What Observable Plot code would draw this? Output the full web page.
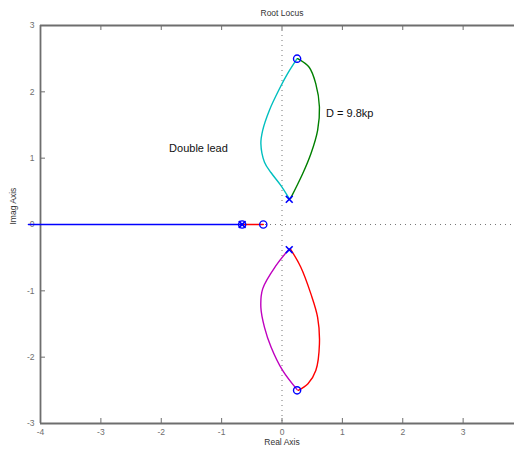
<!DOCTYPE html>
<html>
<head>
<meta charset="utf-8">
<script src="https://cdn.jsdelivr.net/npm/d3@7"></script>
<script src="https://cdn.jsdelivr.net/npm/@observablehq/plot@0.6"></script>
<style>
  body { margin: 0; background: #fff; }
  #wrap { width: 514px; height: 453px; overflow: hidden; }
  #wrap svg { max-width: none !important; overflow: hidden; }
</style>
</head>
<body>
<div id="wrap"></div>
<script>
// Root locus of the double-lead compensated loop (D = 9.8kp)
const xTicks = [-4, -3, -2, -1, 0, 1, 2, 3];
const yTicks = [-3, -2, -1, 0, 1, 2, 3];

// open-loop poles and zeros
const poles = [[0.12, 0.38], [0.12, -0.38], [-0.66, 0]];
const zeros = [[0.25, 2.5], [0.25, -2.5], [-0.66, 0], [-0.31, 0]];

// real-axis branches
const realLeft = [[-4.2, 0], [-0.66, 0]];
const realMid = [[-0.66, 0], [-0.31, 0]];

// complex branches
const branchCyan = [[0.12, 0.39], [-0.02, 0.59], [-0.18, 0.78], [-0.29, 0.94], [-0.35, 1.22], [-0.32, 1.42],
  [-0.21, 1.72], [-0.04, 2.05], [0.09, 2.27], [0.25, 2.5]];
const branchGreen = [[0.14, 0.39], [0.34, 0.76], [0.48, 1.07], [0.59, 1.42], [0.62, 1.77], [0.56, 2.12],
  [0.45, 2.37], [0.26, 2.5]];
const branchMagenta = [[0.12, -0.37], [-0.10, -0.62], [-0.32, -0.97], [-0.35, -1.25], [-0.29, -1.55],
  [-0.18, -1.85], [0.01, -2.2], [0.25, -2.49]];
const branchRed = [[0.14, -0.37], [0.31, -0.64], [0.48, -1.05], [0.59, -1.4], [0.62, -1.8], [0.56, -2.2],
  [0.43, -2.4], [0.27, -2.5]];

const notes = [
  {text: "Double lead", x: -1.87, y: 1.15},
  {text: "D = 9.8kp", x: 0.73, y: 1.67}
];

const W = 523, H = 453, mt = 25, mb = 30, ml = 40, mr = 0;
const fw = W - ml - mr, fh = H - mt - mb;
const frameColor = "#6e6e6e";
const lw = 1.4;

const line = (pts, color) => Plot.line(pts, {x: d => d[0], y: d => d[1], stroke: color, strokeWidth: lw, curve: "catmull-rom"});

const chart = Plot.plot({
  width: W, height: H,
  marginTop: mt, marginBottom: mb, marginLeft: ml, marginRight: mr,
  style: {fontFamily: "'Liberation Sans', Arial, sans-serif", background: "#fff", maxWidth: "none"},
  x: {domain: [-4, 4], axis: null},
  y: {domain: [-3, 3], axis: null},
  marks: [
    // dotted zero lines
    Plot.ruleX([0], {stroke: "#777", strokeDasharray: "1,4", strokeWidth: 1}),
    Plot.ruleY([0], {stroke: "#777", strokeDasharray: "1,4", strokeWidth: 1}),
    // inward ticks
    Plot.ruleX(xTicks.slice(1), {x: d => d, insetTop: fh - 5, stroke: frameColor}),
    Plot.ruleX(xTicks.slice(1), {x: d => d, insetBottom: fh - 5, stroke: frameColor}),
    Plot.ruleY(yTicks.slice(1, -1), {y: d => d, insetRight: fw - 5, stroke: frameColor}),
    // frame
    Plot.ruleX([-4], {stroke: frameColor, strokeWidth: 1.8}),
    Plot.ruleY([-3, 3], {stroke: frameColor, strokeWidth: 1.8}),
    // tick labels
    Plot.axisX(xTicks, {anchor: "bottom", tickSize: 0, tickPadding: 5, fontSize: 8.5, color: "#6e6e6e", label: null, tickFormat: d => String(d)}),
    Plot.axisY(yTicks, {anchor: "left", tickSize: 0, tickPadding: 6, fontSize: 8.5, color: "#6e6e6e", label: null, tickFormat: d => String(d)}),
    // branches
    line(realLeft, "#0000ff"),
    line(realMid, "#ff0000"),
    line(branchCyan, "#00bfbf"),
    line(branchGreen, "#008000"),
    line(branchMagenta, "#bf00bf"),
    line(branchRed, "#ff0000"),
    // poles and zeros
    Plot.dot(zeros, {x: d => d[0], y: d => d[1], r: 3.6, stroke: "#0000ff", strokeWidth: 1.4, fill: "none"}),
    Plot.dot(poles, {x: d => d[0], y: d => d[1], symbol: "times", r: 3.2, stroke: "#0000ff", strokeWidth: 1.6}),
    // annotations
    Plot.text(notes, {x: "x", y: "y", text: "text", textAnchor: "start", fontSize: 11, fill: "#111", letterSpacing: 0.4}),
    // titles
    Plot.text(["Root Locus"], {frameAnchor: "top", dy: -16, fontSize: 8.5, fill: "#333"}),
    Plot.text(["Real Axis"], {frameAnchor: "bottom", dy: 21, fontSize: 8.5, fill: "#333"}),
    Plot.text(["Imag Axis"], {frameAnchor: "left", dx: -27, rotate: -90, fontSize: 8.5, fill: "#333"})
  ]
});
document.getElementById("wrap").appendChild(chart);
</script>
</body>
</html>
